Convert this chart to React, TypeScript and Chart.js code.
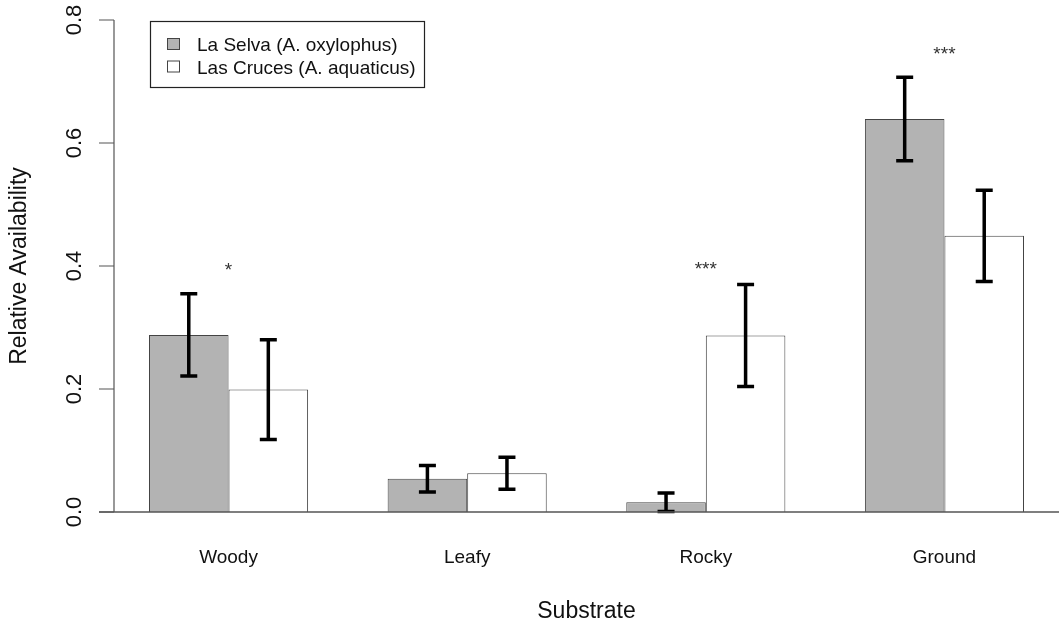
import React, { useEffect, useRef } from 'react';
import { Chart, registerables } from 'chart.js';

Chart.register(...registerables);

// ---- data ----
const categories = ['Woody', 'Leafy', 'Rocky', 'Ground'];
const seriesNames = ['La Selva (A. oxylophus)', 'Las Cruces (A. aquaticus)'];
const laSelva = [0.288, 0.054, 0.016, 0.639];
const laSelvaErr = [0.067, 0.0215, 0.015, 0.068];
const lasCruces = [0.199, 0.063, 0.287, 0.449];
const lasCrucesErr = [0.081, 0.026, 0.083, 0.074];
const sigLabels = ['*', '', '***', '***'];
const sigY = [0.397, 0, 0.399, 0.748];
const yTicks = [0, 0.2, 0.4, 0.6, 0.8];
const yTickLabels = ['0.0', '0.2', '0.4', '0.6', '0.8'];
const xTitle = 'Substrate';
const yTitle = 'Relative Availability';

// ---- style ----
const FONT = '"Liberation Sans", Arial, Helvetica, sans-serif';
const GRAY = '#b3b3b3';
const WHITE = '#ffffff';
const BORDER = '#444444';
const fills = [GRAY, WHITE];

const decorPlugin = {
  id: 'decor',
  afterDatasetsDraw(chart: any) {
    const { ctx, chartArea, scales } = chart;
    const xs = scales.x;
    const ys = scales.y;
    const y0 = ys.getPixelForValue(0);
    ctx.save();

    // error bars
    const vals = [laSelva, lasCruces];
    const errs = [laSelvaErr, lasCrucesErr];
    ctx.strokeStyle = '#000';
    ctx.lineWidth = 3.5;
    ctx.lineCap = 'butt';
    for (let d = 0; d < 2; d++) {
      const meta = chart.getDatasetMeta(d);
      meta.data.forEach((bar: any, i: number) => {
        const bx = bar.x;
        const top = ys.getPixelForValue(vals[d][i] + errs[d][i]);
        const bot = ys.getPixelForValue(Math.max(0, vals[d][i] - errs[d][i]));
        ctx.beginPath();
        ctx.moveTo(bx, top);
        ctx.lineTo(bx, bot);
        ctx.moveTo(bx - 8.5, top);
        ctx.lineTo(bx + 8.5, top);
        ctx.moveTo(bx - 8.5, bot);
        ctx.lineTo(bx + 8.5, bot);
        ctx.stroke();
      });
    }

    // baseline
    ctx.strokeStyle = '#555';
    ctx.lineWidth = 1.5;
    ctx.beginPath();
    ctx.moveTo(chartArea.left - 15, y0);
    ctx.lineTo(chartArea.right, y0);
    ctx.stroke();

    // y axis
    ctx.lineWidth = 1.2;
    ctx.beginPath();
    ctx.moveTo(chartArea.left, ys.getPixelForValue(yTicks[yTicks.length - 1]));
    ctx.lineTo(chartArea.left, y0);
    yTicks.forEach((t) => {
      const py = ys.getPixelForValue(t);
      ctx.moveTo(chartArea.left - 15, py);
      ctx.lineTo(chartArea.left, py);
    });
    ctx.stroke();

    // y tick labels (rotated)
    ctx.fillStyle = '#111';
    ctx.font = `22px ${FONT}`;
    ctx.textAlign = 'center';
    ctx.textBaseline = 'middle';
    yTicks.forEach((t, i) => {
      const py = ys.getPixelForValue(t);
      ctx.save();
      ctx.translate(75, py);
      ctx.rotate(-Math.PI / 2);
      ctx.fillText(yTickLabels[i], 0, 0);
      ctx.restore();
    });

    // y title
    ctx.font = `23px ${FONT}`;
    ctx.save();
    ctx.translate(20, (chartArea.top + chartArea.bottom) / 2);
    ctx.rotate(-Math.PI / 2);
    ctx.fillText(yTitle, 0, 0);
    ctx.restore();

    // x category labels
    ctx.font = `19px ${FONT}`;
    ctx.textBaseline = 'alphabetic';
    categories.forEach((c, i) => {
      ctx.fillText(c, xs.getPixelForValue(i), 563);
    });

    // x title
    ctx.font = `23px ${FONT}`;
    ctx.fillText(xTitle, (chartArea.left + chartArea.right) / 2, 618);

    // significance stars
    ctx.font = `19px ${FONT}`;
    ctx.fillStyle = '#333';
    sigLabels.forEach((s, i) => {
      if (!s) return;
      ctx.fillText(s, xs.getPixelForValue(i), ys.getPixelForValue(sigY[i]) + 8);
    });

    // legend
    const lx = 150, ly = 21, lw = 274, lh = 66;
    ctx.fillStyle = '#fff';
    ctx.fillRect(lx, ly, lw, lh);
    ctx.strokeStyle = '#222';
    ctx.lineWidth = 1.2;
    ctx.strokeRect(lx + 0.5, ly + 0.5, lw, lh);
    ctx.font = `19px ${FONT}`;
    ctx.textAlign = 'left';
    ctx.textBaseline = 'alphabetic';
    seriesNames.forEach((name, i) => {
      const cy = 44 + i * 22.5;
      ctx.fillStyle = fills[i];
      ctx.fillRect(167, cy - 5.5, 12, 11);
      ctx.strokeStyle = BORDER;
      ctx.lineWidth = 1;
      ctx.strokeRect(167.5, cy - 5.5, 12, 11);
      ctx.fillStyle = '#111';
      ctx.fillText(name, 197, cy + 7);
    });

    ctx.restore();
  },
};

export default function App() {
  const ref = useRef<HTMLCanvasElement>(null);
  useEffect(() => {
    if (!ref.current) return;
    const chart = new Chart(ref.current, {
      type: 'bar',
      data: {
        datasets: [
          {
            label: seriesNames[0],
            data: laSelva.map((v, i) => ({ x: i, y: v })),
            backgroundColor: GRAY,
            borderColor: BORDER,
            borderWidth: 1,
          },
          {
            label: seriesNames[1],
            data: lasCruces.map((v, i) => ({ x: i, y: v })),
            backgroundColor: WHITE,
            borderColor: BORDER,
            borderWidth: 1,
          },
        ],
      },
      options: {
        responsive: false,
        animation: false,
        events: [],
        layout: { padding: { left: 114, right: 1, top: 20, bottom: 111 } },
        datasets: { bar: { barPercentage: 1, categoryPercentage: 2 / 3 } },
        plugins: { legend: { display: false }, tooltip: { enabled: false }, title: { display: false } },
        scales: {
          x: {
            type: 'linear',
            display: false,
            offset: false,
            min: -0.48,
            max: 3.48,
            afterBuildTicks: (scale: any) => {
              scale.ticks = categories.map((_, i) => ({ value: i }));
            },
          },
          y: {
            type: 'linear',
            display: false,
            min: 0,
            max: 0.8,
          },
        },
      },
      plugins: [decorPlugin],
    } as any);
    return () => chart.destroy();
  }, []);
  return (
    <div style={{ position: 'absolute', left: 0, top: 0, width: 1060, height: 623, background: '#fff' }}>
      <canvas ref={ref} width={1060} height={623} style={{ display: 'block' }} />
    </div>
  );
}
